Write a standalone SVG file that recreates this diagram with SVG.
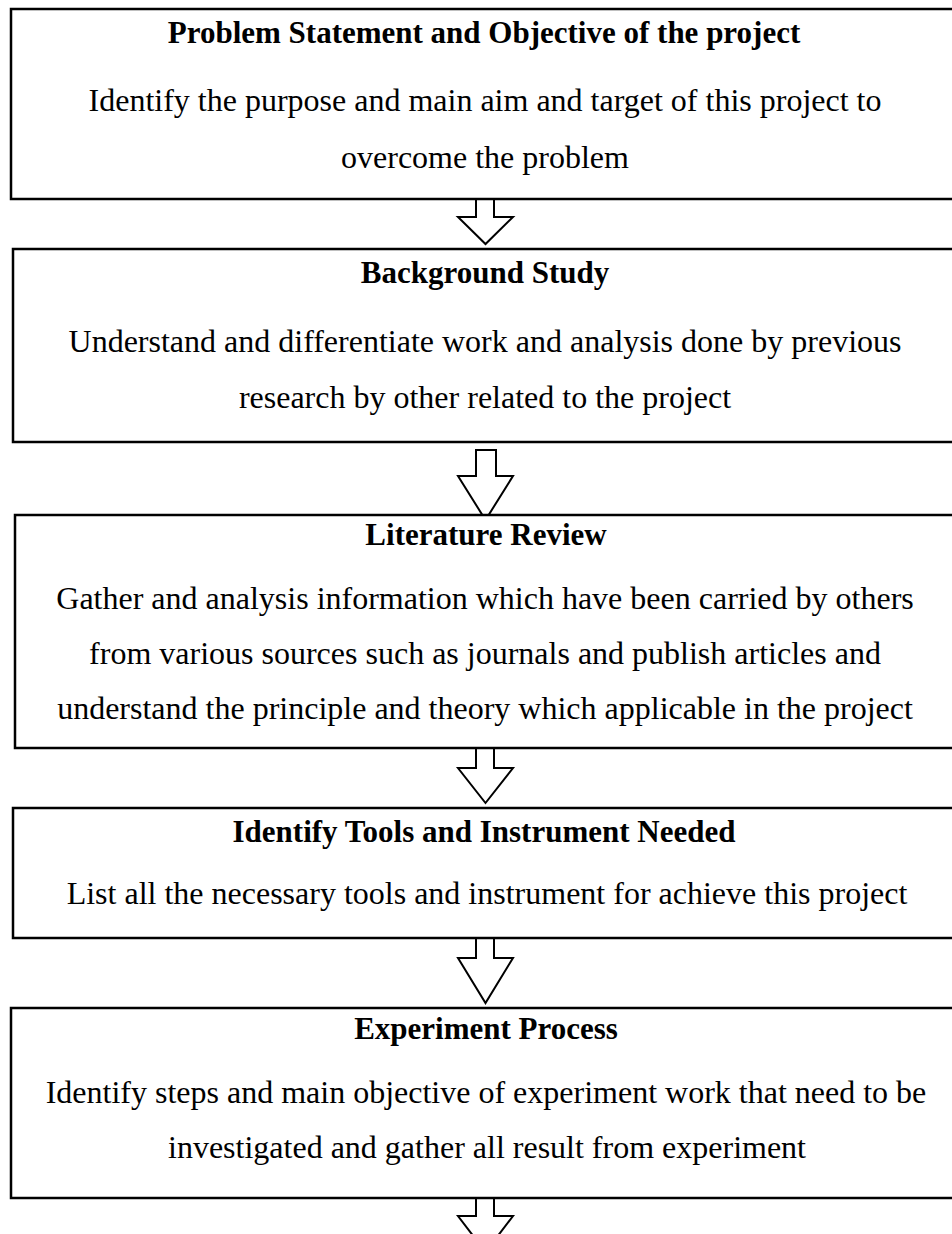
<svg xmlns="http://www.w3.org/2000/svg" width="952" height="1234" viewBox="0 0 952 1234">
  <style>
    .box { fill: #ffffff; stroke: #000000; stroke-width: 2.5; }
    .arrow { fill: #ffffff; stroke: #000000; stroke-width: 2; stroke-linejoin: miter; }
    .h { font-family: "Liberation Serif", "Times New Roman", serif; font-weight: bold; font-size: 31px; fill: #000; text-anchor: middle; }
    .t { font-family: "Liberation Serif", "Times New Roman", serif; font-size: 32px; fill: #000; text-anchor: middle; }
  </style>
  <rect width="952" height="1234" fill="#ffffff"/>

  <!-- block arrows between the stages -->
  <g id="connectors">
    <polygon class="arrow" points="476,199 494,199 494,217 513,217 485.5,244 458,217 476,217"/>
    <polygon class="arrow" points="476,450 496,450 496,476 513,476 485.5,520 458,476 476,476"/>
    <polygon class="arrow" points="476,748 494,748 494,768 513,768 485.5,803 458,768 476,768"/>
    <polygon class="arrow" points="476,938 494,938 494,958 513,958 485.5,1003 458,958 476,958"/>
    <polygon class="arrow" points="476,1198 494,1198 494,1216 513,1216 485.5,1252 458,1216 476,1216"/>
  </g>

  <g id="problem-statement">
    <rect class="box" x="11" y="9" width="955" height="190"/>
    <text class="h" x="484" y="43">Problem Statement and Objective of the project</text>
    <text class="t" x="485" y="111">Identify the purpose and main aim and target of this project to</text>
    <text class="t" x="485" y="168">overcome the problem</text>
  </g>

  <g id="background-study">
    <rect class="box" x="13" y="249" width="955" height="193"/>
    <text class="h" x="485" y="283">Background Study</text>
    <text class="t" x="485" y="352">Understand and differentiate work and analysis done by previous</text>
    <text class="t" x="485" y="408">research by other related to the project</text>
  </g>

  <g id="literature-review">
    <rect class="box" x="15" y="515" width="955" height="233"/>
    <text class="h" x="486" y="545">Literature Review</text>
    <text class="t" x="485" y="609">Gather and analysis information which have been carried by others</text>
    <text class="t" x="485" y="664">from various sources such as journals and publish articles and</text>
    <text class="t" x="485" y="719">understand the principle and theory which applicable in the project</text>
  </g>

  <g id="tools-instruments">
    <rect class="box" x="13" y="808" width="955" height="130"/>
    <text class="h" x="484" y="842">Identify Tools and Instrument Needed</text>
    <text class="t" x="487" y="904">List all the necessary tools and instrument for achieve this project</text>
  </g>

  <g id="experiment-process">
    <rect class="box" x="11" y="1008" width="955" height="190"/>
    <text class="h" x="486" y="1039">Experiment Process</text>
    <text class="t" x="486" y="1103">Identify steps and main objective of experiment work that need to be</text>
    <text class="t" x="487" y="1158">investigated and gather all result from experiment</text>
  </g>
</svg>
